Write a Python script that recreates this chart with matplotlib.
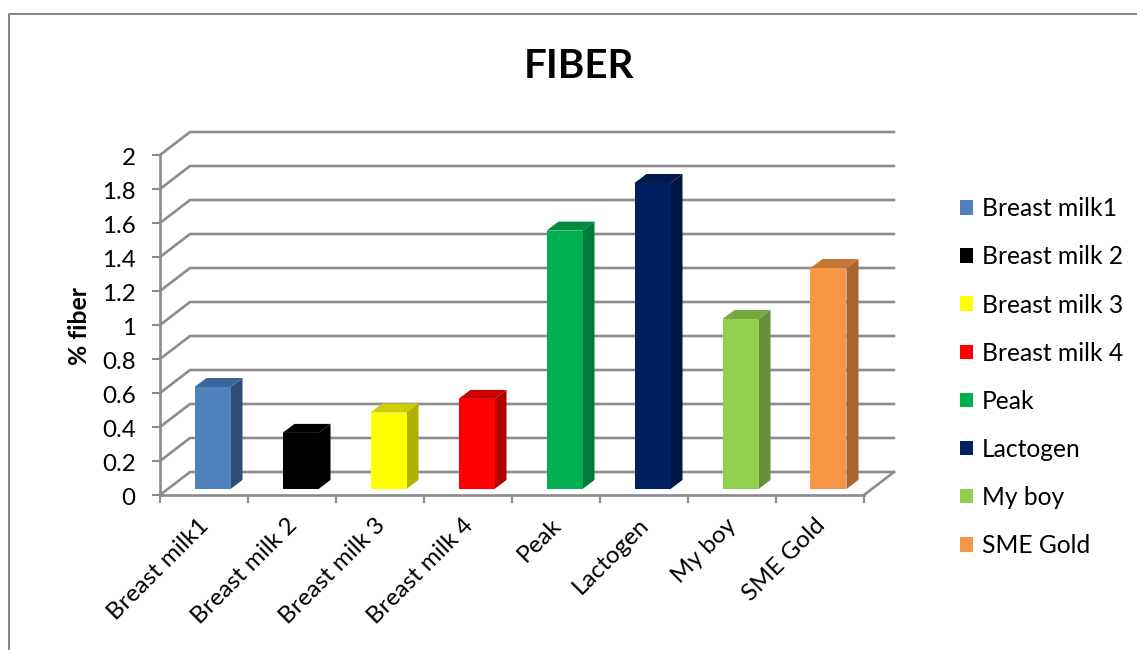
import matplotlib
matplotlib.use("Agg")
import matplotlib.pyplot as plt
from matplotlib.lines import Line2D
from matplotlib.patches import Patch
from matplotlib.transforms import ScaledTranslation

plt.rcParams['font.family'] = ['Lato', 'DejaVu Sans']

categories = ['Breast milk1', 'Breast milk 2', 'Breast milk 3', 'Breast milk 4',
              'Peak', 'Lactogen', 'My boy', 'SME Gold']
legend_labels = ['Breast milk1', 'Breast milk 2', 'Breast milk 3', 'Breast milk 4',
                 'Peak', 'Lactogen', 'My boy', 'SME Gold']
values = [0.60, 0.33, 0.45, 0.53, 1.52, 1.80, 1.00, 1.30]
front_colors = ['#4F81BD', '#000000', '#FFFF00', '#FF0000', '#00B050', '#002060', '#92D050', '#F79646']
side_colors = ['#2F4F77', '#000000', '#B0B000', '#B00000', '#007A37', '#001640', '#658F38', '#A9652E']
top_colors = ['#3C659A', '#000000', '#CCCC00', '#CC0000', '#008C40', '#001A4D', '#75A841', '#C47735']
yticks = [0, 0.2, 0.4, 0.6, 0.8, 1, 1.2, 1.4, 1.6, 1.8, 2]
ytick_labels = ['0', '0.2', '0.4', '0.6', '0.8', '1', '1.2', '1.4', '1.6', '1.8', '2']

W, H = 1137, 650
GRID = '#8C8C8C'
FS = 17.4
fig = plt.figure(figsize=(W / 100, H / 100), dpi=100, facecolor='white')
ax = fig.add_axes([160 / W, 1 - 495 / H, 704 / W, 340 / H])
ax.set_xlim(0, 8)
ax.set_ylim(0, 2)
ax.set_facecolor('none')

px_x = 8 / 704
px_y = 2 / 340
wall_dx, wall_dy = 30 * px_x, 23 * px_y

# walls and floor
for v in yticks:
    ax.plot([0, wall_dx, 8 + wall_dx], [v, v + wall_dy, v + wall_dy],
            color=GRID, lw=1.9, clip_on=False, zorder=1, solid_joinstyle='miter')
ax.plot([8, 8 + wall_dx], [0, wall_dy], color=GRID, lw=1.9, clip_on=False, zorder=1)

# bars
bar_w = 36 * px_x
off_x = 8.5 * px_x
bar_base = 6 * px_y
dep_x, dep_y = 12 * px_x, 9 * px_y
for i, v in enumerate(values):
    centre = i + 0.5
    left = centre - bar_w / 2 + off_x
    right = left + bar_w
    top = bar_base + v
    ax.fill([right, right + dep_x, right + dep_x, right],
            [bar_base, bar_base + dep_y, top + dep_y, top],
            color=side_colors[i], lw=0, clip_on=False, zorder=3)
    ax.fill([left, left + dep_x, right + dep_x, right],
            [top, top + dep_y, top + dep_y, top],
            color=top_colors[i], lw=0, clip_on=False, zorder=3)
    ax.bar(centre + off_x, v, width=bar_w, bottom=bar_base, color=front_colors[i],
           linewidth=0, zorder=4, clip_on=False)

# axes
for s in ['top', 'right']:
    ax.spines[s].set_visible(False)
for s in ['left', 'bottom']:
    ax.spines[s].set_color(GRID)
    ax.spines[s].set_linewidth(1.9)
    ax.spines[s].set_zorder(2)
ax.set_yticks(yticks)
ax.set_yticklabels(ytick_labels, fontsize=FS)
ax.tick_params(axis='y', length=5.5, width=1.5, color=GRID, pad=12)
ax.set_xticks(range(9))
ax.set_xticklabels([])
ax.tick_params(axis='x', which='major', length=5.5, width=1.5, color=GRID)
ax.set_xticks([i + 0.5 - 6 * px_x for i in range(8)], minor=True)
ax.set_xticklabels(categories, minor=True, rotation=45, ha='right', va='top',
                   rotation_mode='anchor', fontsize=17.5)
ax.tick_params(axis='x', which='minor', length=0, pad=14)
for lab in ax.get_yticklabels():
    lab.set_transform(lab.get_transform() + ScaledTranslation(0, -1.5 / 100, fig.dpi_scale_trans))

ax.set_ylabel('% fiber', fontsize=17.8, fontweight='bold')
ax.yaxis.set_label_coords(91 / W, 1 - 326 / H, transform=fig.transFigure)

fig.text(579 / W, 1 - 66 / H, 'FIBER', fontsize=29, fontweight='bold', ha='center', va='center')

handles = [Patch(facecolor=c, edgecolor='none') for c in front_colors]
fig.legend(handles, legend_labels, loc='upper left', bbox_to_anchor=(952.5 / W, 1 - 190 / H),
           frameon=False, fontsize=17.7, handlelength=0.54, handleheight=0.54,
           handletextpad=0.34, labelspacing=1.02, borderpad=0.3, borderaxespad=0)

# chart frame
fig.add_artist(Line2D([8.5 / W, 8.5 / W, 1], [0, 1 - 14 / H, 1 - 14 / H], color='#868686', lw=1.4))

fig.savefig('out.png', dpi=100)
